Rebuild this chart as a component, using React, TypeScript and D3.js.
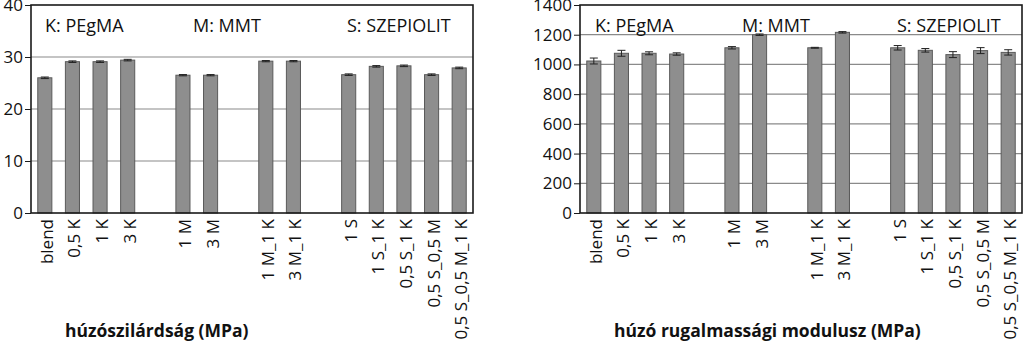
import React, { useEffect, useRef } from "react";
import * as d3 from "d3";

const categories = ["blend", "0,5 K", "1 K", "3 K", "gap1", "1 M", "3 M", "gap2", "1 M_1 K", "3 M_1 K", "gap3", "1 S", "1 S_1 K", "0,5 S_1 K", "0,5 S_0,5 M", "0,5 S_0,5 M_1 K"];
const strengthValues = [26.0, 29.1, 29.1, 29.4, null, 26.5, 26.5, null, 29.2, 29.2, null, 26.6, 28.2, 28.3, 26.6, 27.9];
const strengthErrors = [0.15, 0.15, 0.15, 0.15, null, 0.12, 0.12, null, 0.12, 0.12, null, 0.15, 0.15, 0.15, 0.15, 0.15];
const modulusValues = [1023, 1075, 1075, 1070, null, 1112, 1200, null, 1112, 1216, null, 1112, 1095, 1066, 1093, 1081];
const modulusErrors = [20, 20, 10, 8, null, 8, 5, null, 3, 5, null, 15, 12, 20, 20, 18];
const strengthTicks = [0, 10, 20, 30, 40];
const modulusTicks = [0, 200, 400, 600, 800, 1000, 1200, 1400];
const headerLabels = ["K: PEgMA", "M: MMT", "S: SZEPIOLIT"];

const FONT = "'Open Sans', 'Noto Sans', sans-serif";

type Panel = {
  x0: number; x1: number; yMax: number; ticks: number[];
  values: (number | null)[]; errors: (number | null)[];
  title: string; titleX: number; headerX: number[];
};

const panels: Panel[] = [
  { x0: 31, x1: 473, yMax: 40, ticks: strengthTicks, values: strengthValues, errors: strengthErrors,
    title: "húzószilárdság (MPa)", titleX: 65, headerX: [45, 193, 347] },
  { x0: 580, x1: 1022, yMax: 1400, ticks: modulusTicks, values: modulusValues, errors: modulusErrors,
    title: "húzó rugalmassági modulusz (MPa)", titleX: 614, headerX: [595, 742, 897] },
];

export default function App() {
  const ref = useRef<SVGSVGElement>(null);
  useEffect(() => {
    const svg = d3.select(ref.current);
    svg.selectAll("*").remove();
    const yTop = 5, yBot = 213;
    panels.forEach((p) => {
      const g = svg.append("g");
      const x = d3.scaleBand<string>().domain(categories).range([p.x0, p.x1]).paddingInner(0.49).paddingOuter(0.245);
      const y = d3.scaleLinear().domain([0, p.yMax]).range([yBot, yTop]);
      // gridlines
      g.selectAll("line.grid").data(p.ticks.filter((t) => t > 0 && t < p.yMax)).enter().append("line")
        .attr("x1", p.x0).attr("x2", p.x1).attr("y1", (d) => y(d)).attr("y2", (d) => y(d))
        .attr("stroke", "#8a8a8a").attr("stroke-width", 1.2);
      // bars
      const data = categories.map((c, i) => ({ c, v: p.values[i], e: p.errors[i] })).filter((d) => d.v != null) as { c: string; v: number; e: number }[];
      g.selectAll("rect.bar").data(data).enter().append("rect")
        .attr("x", (d) => x(d.c)!).attr("width", x.bandwidth())
        .attr("y", (d) => y(d.v)).attr("height", (d) => yBot - y(d.v))
        .attr("fill", "#8e8e8e").attr("stroke", "#5a5a5a").attr("stroke-width", 1);
      // error bars
      const eg = g.selectAll("g.err").data(data).enter().append("g").attr("stroke", "#222").attr("stroke-width", 1);
      eg.append("line").attr("x1", (d) => x(d.c)! + x.bandwidth() / 2).attr("x2", (d) => x(d.c)! + x.bandwidth() / 2)
        .attr("y1", (d) => y(d.v + d.e)).attr("y2", (d) => y(d.v - d.e));
      eg.append("line").attr("x1", (d) => x(d.c)! + x.bandwidth() / 2 - 4).attr("x2", (d) => x(d.c)! + x.bandwidth() / 2 + 4)
        .attr("y1", (d) => y(d.v + d.e)).attr("y2", (d) => y(d.v + d.e));
      eg.append("line").attr("x1", (d) => x(d.c)! + x.bandwidth() / 2 - 4).attr("x2", (d) => x(d.c)! + x.bandwidth() / 2 + 4)
        .attr("y1", (d) => y(d.v - d.e)).attr("y2", (d) => y(d.v - d.e));
      // frame
      g.append("rect").attr("x", p.x0).attr("y", yTop).attr("width", p.x1 - p.x0).attr("height", yBot - yTop)
        .attr("fill", "none").attr("stroke", "#1a1a1a").attr("stroke-width", 1.6);
      // y axis
      const yAxis = d3.axisLeft(y).tickValues(p.ticks).tickSize(6).tickPadding(2).tickFormat((d) => String(d));
      const ya = g.append("g").attr("transform", `translate(${p.x0},0)`).call(yAxis);
      ya.select(".domain").remove();
      ya.selectAll("line").attr("stroke", "#1a1a1a");
      ya.selectAll("text").attr("font-family", FONT).attr("font-size", 17).attr("fill", "#111");
      // x labels
      g.selectAll("text.xl").data(categories.filter((c) => !c.startsWith("gap"))).enter().append("text")
        .attr("transform", (d) => `translate(${x(d)! + x.bandwidth() / 2 + 8},${yBot + 6}) rotate(-90)`)
        .attr("text-anchor", "end").attr("font-family", FONT).attr("font-size", 17).attr("fill", "#111")
        .text((d) => d);
      // header labels
      headerLabels.forEach((h, i) => {
        g.append("text").attr("x", p.headerX[i]).attr("y", 32).attr("font-family", FONT).attr("font-size", 18)
          .attr("fill", "#111").text(h);
      });
      // title
      g.append("text").attr("x", p.titleX).attr("y", 337).attr("font-family", FONT).attr("font-size", 17.5)
        .attr("font-weight", "bold").attr("fill", "#111").text(p.title);
    });
  }, []);
  return (
    <svg ref={ref} width={1024} height={352} style={{ position: "absolute", left: 0, top: 0, background: "#fff" }} />
  );
}
